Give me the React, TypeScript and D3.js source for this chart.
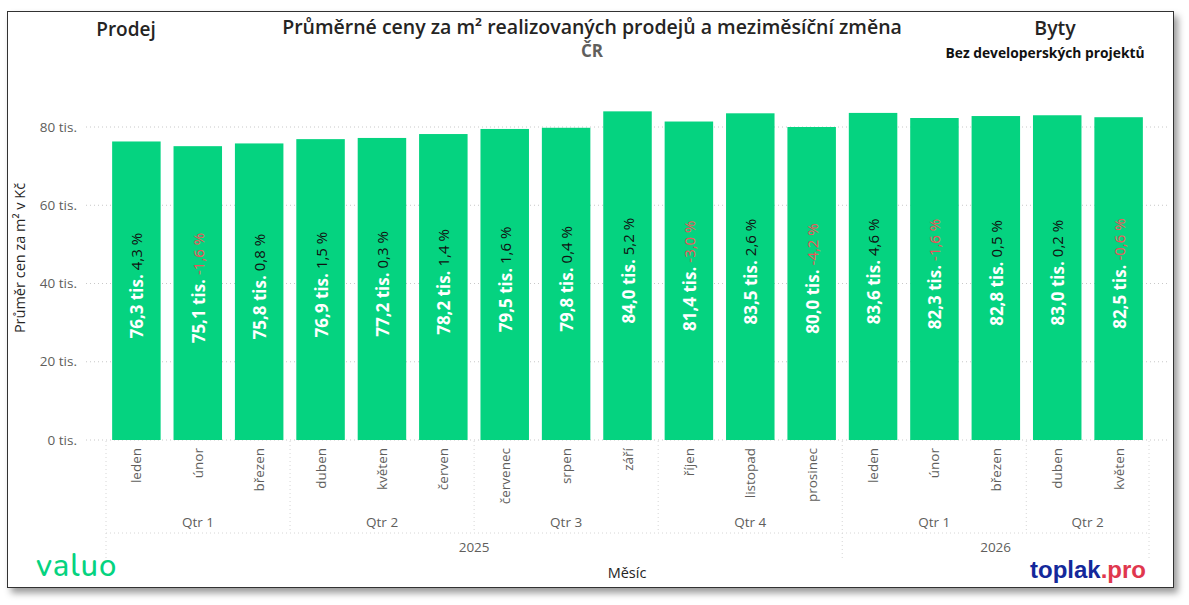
import * as d3 from 'd3';
import { useEffect, useRef } from 'react';

const months = [
  'leden', 'únor', 'březen', 'duben', 'květen', 'červen',
  'červenec', 'srpen', 'září', 'říjen', 'listopad', 'prosinec',
  'leden', 'únor', 'březen', 'duben', 'květen',
];
const years = ['2025', '2025', '2025', '2025', '2025', '2025', '2025', '2025', '2025', '2025', '2025', '2025', '2026', '2026', '2026', '2026', '2026'];
const quarters = ['Qtr 1', 'Qtr 1', 'Qtr 1', 'Qtr 2', 'Qtr 2', 'Qtr 2', 'Qtr 3', 'Qtr 3', 'Qtr 3', 'Qtr 4', 'Qtr 4', 'Qtr 4', 'Qtr 1', 'Qtr 1', 'Qtr 1', 'Qtr 2', 'Qtr 2'];
const prices = [76.3, 75.1, 75.8, 76.9, 77.2, 78.2, 79.5, 79.8, 84.0, 81.4, 83.5, 80.0, 83.6, 82.3, 82.8, 83.0, 82.5];
const changes = [4.3, -1.6, 0.8, 1.5, 0.3, 1.4, 1.6, 0.4, 5.2, -3.0, 2.6, -4.2, 4.6, -1.6, 0.5, 0.2, -0.6];
const yTicks = [0, 20, 40, 60, 80];

const W = 1189;
const H = 605;
const font = '"Open Sans", "Noto Sans", sans-serif';
const green = '#05d380';
const fmt = (v: number) => v.toFixed(1).replace('.', ',');

export default function App() {
  const svgRef = useRef<SVGSVGElement>(null);

  useEffect(() => {
    const svgEl = svgRef.current;
    if (!svgEl) return;
    const svg = d3.select(svgEl);
    svg.selectAll('*').remove();

    const defs = svg.append('defs');
    const f = defs.append('filter').attr('id', 'shadow').attr('x', '-5%').attr('y', '-5%').attr('width', '110%').attr('height', '112%');
    f.append('feDropShadow').attr('dx', 4).attr('dy', 5).attr('stdDeviation', 3.5).attr('flood-color', '#000').attr('flood-opacity', 0.4);

    // card
    svg.append('rect')
      .attr('x', 7.5).attr('y', 11.5).attr('width', 1166).attr('height', 576)
      .attr('fill', '#fff').attr('stroke', '#333').attr('stroke-width', 1)
      .attr('filter', 'url(#shadow)');

    const idx = months.map((_, i) => i);
    const x = d3.scaleBand<number>().domain(idx).range([106, 1149]).paddingInner(0.21).paddingOuter(0.1);
    const left = (i: number) => 106 + i * ((1149 - 106) / months.length);
    const y = d3.scaleLinear().domain([0, 80]).range([440, 127]);

    // gridlines
    svg.append('g').selectAll('line').data(yTicks).join('line')
      .attr('x1', 86).attr('x2', 1170)
      .attr('y1', (d) => y(d)).attr('y2', (d) => y(d))
      .attr('stroke', '#c8c8c8').attr('stroke-dasharray', '1 3');

    svg.append('g').selectAll('text').data(yTicks).join('text')
      .attr('x', 77).attr('y', (d) => y(d)).attr('dy', '0.35em')
      .attr('text-anchor', 'end').attr('font-family', font).attr('font-size', 13.5)
      .attr('fill', '#605e5c').text((d) => `${d} tis.`);

    svg.append('text')
      .attr('transform', 'translate(25,258) rotate(-90)')
      .attr('text-anchor', 'middle').attr('font-family', font).attr('font-size', 14.5)
      .attr('fill', '#252423').text('Průměr cen za m² v Kč');

    // bars
    svg.append('g').selectAll('rect').data(prices).join('rect')
      .attr('x', (_, i) => x(i)!).attr('width', x.bandwidth())
      .attr('y', (d) => y(d)).attr('height', (d) => y(0) - y(d))
      .attr('fill', green);

    // bar labels
    const lab = svg.append('g').selectAll('text').data(prices).join('text')
      .attr('transform', (d, i) => `translate(${x(i)! + x.bandwidth() / 2},${(y(d) + y(0)) / 2 - 5}) rotate(-90)`)
      .attr('text-anchor', 'middle').attr('dominant-baseline', 'central')
      .attr('font-family', font);
    lab.append('tspan').attr('font-size', 17).attr('font-weight', 700).attr('fill', '#fff')
      .text((d) => `${fmt(d)} tis.`);
    lab.append('tspan').attr('font-size', 15).attr('fill', (_, i) => (changes[i] < 0 ? '#f0525a' : '#111'))
      .attr('dx', 4).text((_, i) => `${fmt(changes[i])} %`);

    // month labels
    svg.append('g').selectAll('text').data(months).join('text')
      .attr('transform', (_, i) => `translate(${x(i)! + x.bandwidth() / 2},448) rotate(-90)`)
      .attr('text-anchor', 'end').attr('dominant-baseline', 'central')
      .attr('font-family', font).attr('font-size', 13.5).attr('fill', '#605e5c')
      .text((d) => d);

    // hierarchy separators
    const sep = svg.append('g').attr('stroke', '#d6d6d6').attr('stroke-dasharray', '1 3');
    const qStarts = idx.filter((i) => i === 0 || quarters[i] !== quarters[i - 1]);
    const yStarts = idx.filter((i) => i === 0 || years[i] !== years[i - 1]);
    sep.selectAll('.q').data(qStarts).join('line')
      .attr('x1', (i) => left(i)).attr('x2', (i) => left(i))
      .attr('y1', 441).attr('y2', (i) => (yStarts.includes(i) ? 558 : 533));
    sep.append('line').attr('x1', 1149).attr('x2', 1149).attr('y1', 441).attr('y2', 558);
    sep.append('line').attr('x1', 106).attr('x2', 1149).attr('y1', 533).attr('y2', 533);

    const groups = (keys: string[], starts: number[]) =>
      starts.map((s, k) => {
        const e = k + 1 < starts.length ? starts[k + 1] : keys.length;
        return { label: keys[s], cx: (left(s) + left(e)) / 2 };
      });

    svg.append('g').selectAll('text').data(groups(quarters, qStarts)).join('text')
      .attr('x', (d) => d.cx).attr('y', 522).attr('dy', '0.35em')
      .attr('text-anchor', 'middle').attr('font-family', font).attr('font-size', 13.5)
      .attr('fill', '#605e5c').text((d) => d.label);

    svg.append('g').selectAll('text').data(groups(years, yStarts)).join('text')
      .attr('x', (d) => d.cx).attr('y', 547).attr('dy', '0.35em')
      .attr('text-anchor', 'middle').attr('font-family', font).attr('font-size', 13.5)
      .attr('fill', '#605e5c').text((d) => d.label);

    svg.append('text').attr('x', 627).attr('y', 573).attr('dy', '0.35em')
      .attr('text-anchor', 'middle').attr('font-family', font).attr('font-size', 14.5)
      .attr('fill', '#252423').text('Měsíc');

    // titles
    const t = (txt: string, tx: number, ty: number, size: number, weight: number, color: string) =>
      svg.append('text').attr('x', tx).attr('y', ty).attr('dy', '0.35em')
        .attr('text-anchor', 'middle').attr('font-family', font).attr('font-size', size)
        .attr('font-weight', weight).attr('fill', color).text(txt);
    t('Průměrné ceny za m² realizovaných prodejů a meziměsíční změna', 592, 27, 19.5, 600, '#252423');
    t('ČR', 592, 51, 17, 700, '#605e5c');
    t('Prodej', 126, 29, 19, 600, '#252423');
    t('Byty', 1055, 28, 19.5, 600, '#252423');
    t('Bez developerských projektů', 1045, 53, 13.8, 700, '#111');

    // logos
    svg.append('text').attr('x', 36).attr('y', 576)
      .attr('font-family', '"Nunito", "Lato", sans-serif').attr('font-size', 31).attr('font-weight', 500)
      .attr('letter-spacing', 1).attr('fill', green).text('valuo');
    const tp = svg.append('text').attr('x', 1146).attr('y', 578).attr('text-anchor', 'end')
      .attr('font-family', '"Liberation Sans", Arial, sans-serif').attr('font-size', 24).attr('font-weight', 700);
    tp.append('tspan').attr('fill', '#14289a').text('toplak');
    tp.append('tspan').attr('fill', '#e0374e').text('.pro');
  }, []);

  return (
    <div style={{ position: 'absolute', left: 0, top: 0, width: W, height: H }}>
      <svg ref={svgRef} width={W} height={H} role="img" aria-label="Průměrné ceny za m²" />
    </div>
  );
}
